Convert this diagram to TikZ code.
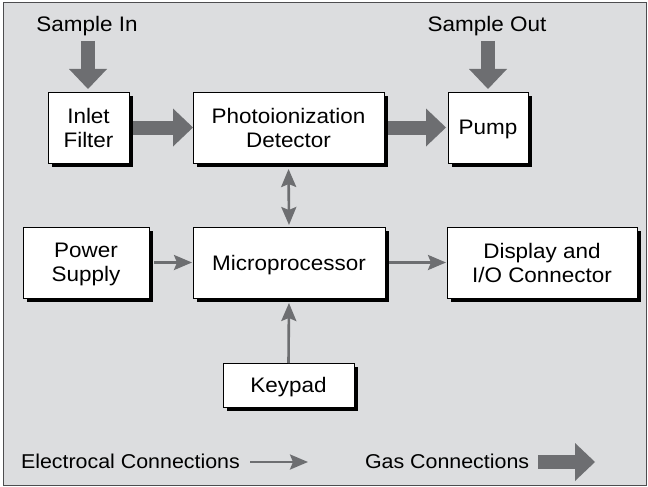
\documentclass[tikz,border=0pt]{standalone}
\usepackage{fontspec}
\setmainfont{Liberation Sans}[FakeStretch=1.07]
\usetikzlibrary{arrows.meta,shadows}
\definecolor{bg}{HTML}{DCDDDF}
\definecolor{arr}{HTML}{6D6E71}
\definecolor{framec}{HTML}{4D4D4F}
\begin{document}
\begin{tikzpicture}[x=1pt,y=-1pt,
  box/.style={draw=black, line width=0.9pt, fill=white, inner sep=0pt, outer sep=0pt,
    align=center, text depth=0pt, font=\fontsize{21}{24}\selectfont,
    drop shadow={shadow xshift=4pt, shadow yshift=-4pt, fill=black, opacity=1}},
  lbl/.style={inner sep=0pt, outer sep=0pt, font=\fontsize{21}{24}\selectfont},
  leg/.style={inner sep=0pt, outer sep=0pt, font=\fontsize{20}{24}\selectfont},
  gas/.style={draw=arr, line width=14pt,
    -{Triangle[length=20pt,width=38pt,line width=0pt]}},
  etip/.style={},
  elec/.style={draw=arr, line width=2.6pt,
    -{Stealth[length=18pt,width=15pt,inset=3pt]}},
  elecboth/.style={draw=arr, line width=2.6pt,
    {Stealth[length=18pt,width=15pt,inset=3pt]}-{Stealth[length=18pt,width=15pt,inset=3pt]}},
]
% page and frame
\fill[white] (0,0) rectangle (648,487);
\draw[fill=bg, draw=framec, line width=1.3pt] (3.5,2.5) rectangle (646.5,485.5);
\useasboundingbox (0,0) rectangle (648,487);

% boxes
\node[box, minimum width=81pt, minimum height=71pt] (inlet) at (88.5,127.5) {Inlet\\Filter};
\node[box, minimum width=191pt, minimum height=71pt] (pid) at (288.5,127.5) {Photoionization\\Detector};
\node[box, minimum width=80pt, minimum height=71pt] (pump) at (488,127.5) {Pump};
\node[box, minimum width=126pt, minimum height=71pt] (power) at (86,262.5) {Power\\Supply};
\node[box, minimum width=192pt, minimum height=71pt] (micro) at (289,262.5) {Microprocessor};
\node[box, minimum width=190pt, minimum height=71pt] (display) at (542,262.5) {Display and\\I/O Connector};
\node[box, minimum width=131pt, minimum height=44pt] (keypad) at (288.5,385) {Keypad};

% top labels
\node[lbl, anchor=base] (sin) at (87,32) {Sample In};
\node[lbl, anchor=base] (sout) at (487,32) {Sample Out};
\coordinate (sinA) at (88,41);
\coordinate (soutA) at (488,41);

% gas connections
\draw[gas, shorten >=3pt] (sinA) -- (sinA |- inlet.north);
\draw[gas, shorten >=3pt] (soutA) -- (soutA |- pump.north);
\draw[gas, shorten <=4pt] (inlet.east) -- (pid.west);
\draw[gas, shorten <=4pt, shorten >=2pt] (pid.east) -- (pump.west);

% electrical connections
\draw[elecboth, shorten <=6pt, shorten >=2pt] (pid.south) -- (micro.north);
\draw[elec, shorten <=5pt, shorten >=1pt] (power.east) -- (micro.west);
\draw[elec, shorten <=4pt, shorten >=1pt] (micro.east) -- (display.west);
\draw[elec, shorten >=5pt] (keypad.north) -- (micro.south);

% legend
\node[leg, anchor=base west] (legE) at (21,468) {Electrocal Connections};
\coordinate (eA) at (250,462);
\coordinate (eB) at (308,462);
\draw[elec] (eA) -- (eB);
\node[leg, anchor=base west] (legG) at (365,468) {Gas Connections};
\coordinate (gA) at (538,462);
\coordinate (gB) at (595,462);
\draw[gas] (gA) -- (gB);
\end{tikzpicture}
\end{document}
